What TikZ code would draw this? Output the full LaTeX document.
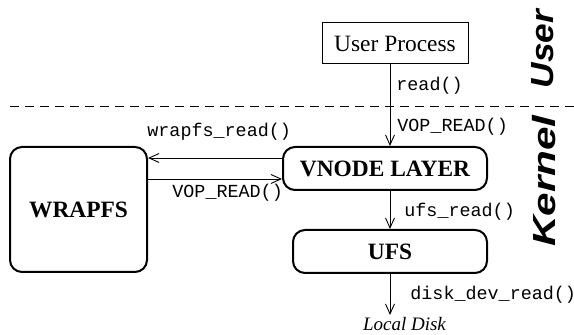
\documentclass[tikz,border=0pt]{standalone}
\usepackage{fontspec}
\setmainfont{Liberation Serif}
\setmonofont{Liberation Mono}
\newfontfamily\sidefont{Liberation Sans}
\usetikzlibrary{arrows.meta}

\tikzset{
	layerbox/.style={draw, line width=1pt, rounded corners=6pt, inner sep=0pt,
		font=\fontsize{11.7pt}{13pt}\selectfont\bfseries},
	callname/.style={inner sep=0pt, anchor=west, font=\fontsize{9.2pt}{10pt}\selectfont\ttfamily},
	callarrow/.style={line width=0.45pt, -{Straight Barb[length=5pt, width=4.5pt]}},
	side/.style={rotate=90, inner sep=0pt, font=\fontsize{16pt}{18pt}\selectfont\sidefont\bfseries\itshape}
}

\begin{document}
\begin{tikzpicture}[x=0.5pt, y=-0.5pt]
			%%%%% START %%%%%
			\useasboundingbox (0, 0) rectangle (574, 335);
			
			\node[draw, line width=0.5pt, inner sep=0pt, minimum width=73pt, minimum height=20.5pt,
				font=\fontsize{11.7pt}{13pt}\selectfont] (user) at (395, 43.5) {User Process};
			\node[layerbox, minimum width=102pt, minimum height=21.5pt] (vnode) at (385, 168.5) {VNODE LAYER};
			\node[layerbox, minimum width=68.5pt, minimum height=62.5pt] (wrapfs) at (78.5, 209.5) {WRAPFS};
			\node[layerbox, minimum width=97pt, minimum height=21.5pt] (ufs) at (390, 251.5) {UFS};
			\node[inner sep=0pt, font=\fontsize{9.5pt}{11pt}\selectfont\itshape] (disk) at (404.5, 324) {Local Disk};
			
			\draw[line width=0.45pt, dash pattern=on 4.5pt off 3pt] (10, 106) -- (574, 106);
			
			\coordinate (spine) at (390, 0);
			\coordinate (diskend) at (390, 315);
			\coordinate (upper) at (0, 158);
			\coordinate (lower) at (0, 179);
			
			\draw[callarrow] (user.south -| spine) -- (vnode.north -| spine);
			\draw[callarrow] (vnode.west |- upper) -- (wrapfs.east |- upper);
			\draw[callarrow] (wrapfs.east |- lower) -- (vnode.west |- lower);
			\draw[callarrow] (vnode.south -| spine) -- (ufs.north -| spine);
			\draw[callarrow] (ufs.south -| spine) -- (diskend);
			
			\node[callname] (readlbl) at (396, 86) {read()};
			\node[callname] (voplbl) at (397, 127) {VOP\_READ()};
			\node[callname] (wraplbl) at (147, 132) {wrapfs\_read()};
			\node[callname] (backlbl) at (172, 193) {VOP\_READ()};
			\node[callname] (ufslbl) at (404, 212) {ufs\_read()};
			\node[callname] (disklbl) at (410, 295) {disk\_dev\_read()};
			
			\node[side] (userside) at (543, 49) {\scalebox{1.1}[1]{User}};
			\node[side] (kernelside) at (544, 181) {\scalebox{1.32}[1]{Kernel}};
			
			%%%%% END %%%%%
		\end{tikzpicture}
\end{document}
